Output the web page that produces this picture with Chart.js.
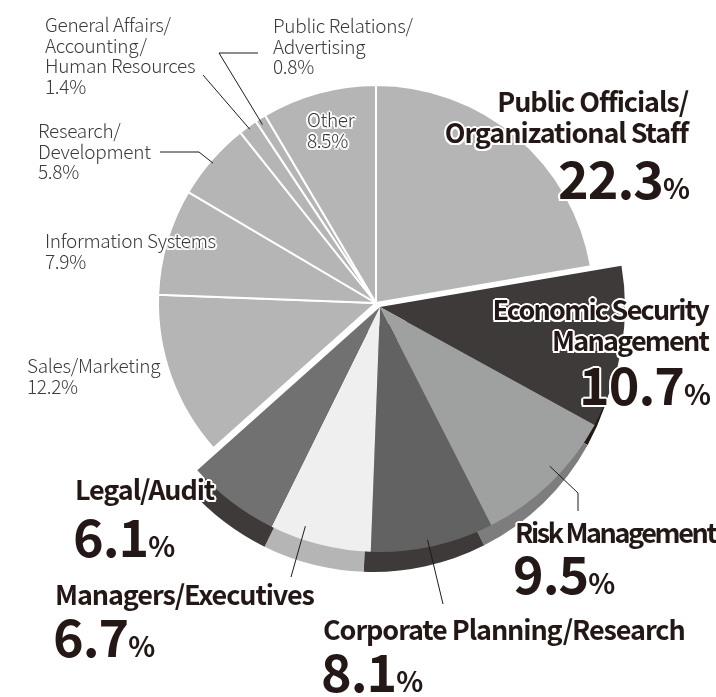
<!DOCTYPE html>
<html>
<head>
<meta charset="utf-8">
<script src="https://cdn.jsdelivr.net/npm/chart.js"></script>
<style>
body{margin:0;width:716px;height:697px;background:#fff;position:relative;overflow:hidden}
canvas{position:absolute;left:0;top:0}
.lbl{position:absolute;white-space:nowrap;color:#231815;font-family:"Noto Sans CJK JP","Noto Sans",sans-serif}
.thin{font-weight:300;font-size:19px;line-height:20.5px;letter-spacing:-0.3px;color:#3e3a39}
.bold{font-weight:700;font-size:27px;line-height:31px;letter-spacing:-1.1px}
.tight{letter-spacing:-1.8px}
.tighter{letter-spacing:-2.4px}
.num{font-weight:700;font-size:52px;line-height:52px;letter-spacing:-1px}
.num span{font-size:28px;letter-spacing:0}
.halo{text-shadow:2px 0 #fff,-2px 0 #fff,0 2px #fff,0 -2px #fff,1.5px 1.5px #fff,-1.5px 1.5px #fff,1.5px -1.5px #fff,-1.5px -1.5px #fff}
</style>
</head>
<body>
<canvas id="rim" width="716" height="697"></canvas>
<canvas id="front" width="716" height="697"></canvas>
<canvas id="back" width="716" height="697"></canvas>
<script>
// 職種別の割合（%）
const categories = ["Public Officials/Organizational Staff", "Economic Security Management", "Risk Management",
  "Corporate Planning/Research", "Managers/Executives", "Legal/Audit", "Sales/Marketing",
  "Information Systems", "Research/Development", "General Affairs/Accounting/Human Resources",
  "Public Relations/Advertising", "Other"];
const shares = [22.3, 10.7, 9.5, 8.1, 6.7, 6.1, 12.2, 7.9, 5.8, 1.4, 0.8, 8.5];
// 手前に出ているグループ
const pulledOut = [false, true, true, true, true, true, false, false, false, false, false, false];
const faceColors = ["#b5b5b6", "#3e3a39", "#9fa0a0", "#626262", "#efefef", "#727171",
  "#b5b5b6", "#b5b5b6", "#b5b5b6", "#b5b5b6", "#b5b5b6", "#b5b5b6"];
const sideColors = ["#b5b5b6", "#231815", "#7d7d7d", "#3e3a39", "#b5b5b6", "#3e3a39",
  "#b5b5b6", "#b5b5b6", "#b5b5b6", "#b5b5b6", "#b5b5b6", "#b5b5b6"];

const none = "rgba(0,0,0,0)";

// 引き出し線
const leaderPlugin = {
  id: "leaders",
  afterDatasetsDraw(chart, args, opts) {
    const ctx = chart.ctx;
    const arcs = chart.getDatasetMeta(0).data;
    ctx.save();
    ctx.strokeStyle = "#231815";
    ctx.lineWidth = 1;
    (opts.lines || []).forEach(l => {
      const a = arcs[l.i];
      const ang = a.startAngle + l.f * (a.endAngle - a.startAngle);
      const r = a.outerRadius * l.r;
      ctx.beginPath();
      ctx.moveTo(a.x + r * Math.cos(ang), a.y + r * Math.sin(ang));
      l.to.forEach(p => ctx.lineTo(p[0], p[1]));
      ctx.stroke();
    });
    ctx.restore();
  }
};

function makePie(id, colors, radius, pad, borderW, lines) {
  return new Chart(id, {
    type: "pie",
    data: {
      labels: categories,
      datasets: [{
        data: shares,
        backgroundColor: colors,
        borderColor: "#fff",
        borderWidth: borderW,
        radius: radius
      }]
    },
    options: {
      responsive: false,
      animation: false,
      events: [],
      layout: {padding: pad},
      plugins: {legend: {display: false}, tooltip: {enabled: false}, leaders: {lines: lines}}
    },
    plugins: [leaderPlugin]
  });
}

// 側面（下にずらす）
makePie("rim", sideColors.map((c, i) => pulledOut[i] ? c : none), 245,
  {left: 30, right: 0, top: 0, bottom: 43}, 0, []);
// 手前のグループ
makePie("front", faceColors.map((c, i) => pulledOut[i] ? c : none), 245,
  {left: 44, right: 0, top: 0, bottom: 83}, 0, [
    {i: 2, f: 0.42, r: 0.95, to: [[578, 493], [578, 511]]},
    {i: 3, f: 0.53, r: 0.97, to: [[443, 604]]},
    {i: 4, f: 0.69, r: 0.945, to: [[291, 577]]}
  ]);
// 奥のグループ
makePie("back", faceColors.map((c, i) => pulledOut[i] ? none : c), 218,
  {left: 36, right: 0, top: 0, bottom: 91}, pulledOut.map(p => p ? 0 : 2), [
    {i: 8, f: 0.48, r: 0.985, to: [[199, 152], [160, 152]]},
    {i: 9, f: 0.5, r: 0.985, to: [[203, 75]]},
    {i: 10, f: 0.35, r: 0.97, to: [[219, 53], [258, 53]]}
  ]);

// ラベル
const pct = i => shares[i].toFixed(1) + "%";
const bigPct = i => shares[i].toFixed(1) + "<span>%</span>";
const labels = [
  {cls: "thin", x: 45, y: 14, html: "General Affairs/<br>Accounting/<br>Human Resources<br>" + pct(9)},
  {cls: "thin", x: 273, y: 15, html: "Public Relations/<br>Advertising<br>" + pct(10)},
  {cls: "thin", x: 38, y: 120, html: "Research/<br>Development<br>" + pct(8)},
  {cls: "thin halo", x: 45, y: 230, html: "Information Systems<br>" + pct(7)},
  {cls: "thin", x: 27, y: 355, html: "Sales/Marketing<br>" + pct(6)},
  {cls: "thin halo", x: 307, y: 109, html: "Other<br>" + pct(11)},
  {cls: "bold halo", rx: 688, y: 85, html: "Public Officials/<br>Organizational Staff", right: true},
  {cls: "num halo", rx: 690, y: 151, html: bigPct(0), right: true},
  {cls: "bold halo tight", rx: 708, y: 293, html: "Economic Security<br>Management", right: true},
  {cls: "num halo", rx: 711, y: 357, html: bigPct(1), right: true},
  {cls: "bold halo tighter", x: 515, y: 516, html: "Risk Management"},
  {cls: "num", x: 513, y: 546, html: bigPct(2)},
  {cls: "bold", x: 323, y: 613, html: "Corporate Planning/Research"},
  {cls: "num", x: 321, y: 644, html: bigPct(3)},
  {cls: "bold", x: 55, y: 578, html: "Managers/Executives"},
  {cls: "num", x: 53, y: 609, html: bigPct(4)},
  {cls: "bold halo", x: 75, y: 473, html: "Legal/Audit"},
  {cls: "num", x: 73, y: 509, html: bigPct(5)}
];
labels.forEach(l => {
  const d = document.createElement("div");
  d.className = "lbl " + l.cls;
  d.innerHTML = l.html;
  d.style.top = l.y + "px";
  if (l.right) {
    d.style.right = (716 - l.rx) + "px";
    d.style.textAlign = "right";
  } else {
    d.style.left = l.x + "px";
  }
  document.body.appendChild(d);
});
</script>
</body>
</html>
